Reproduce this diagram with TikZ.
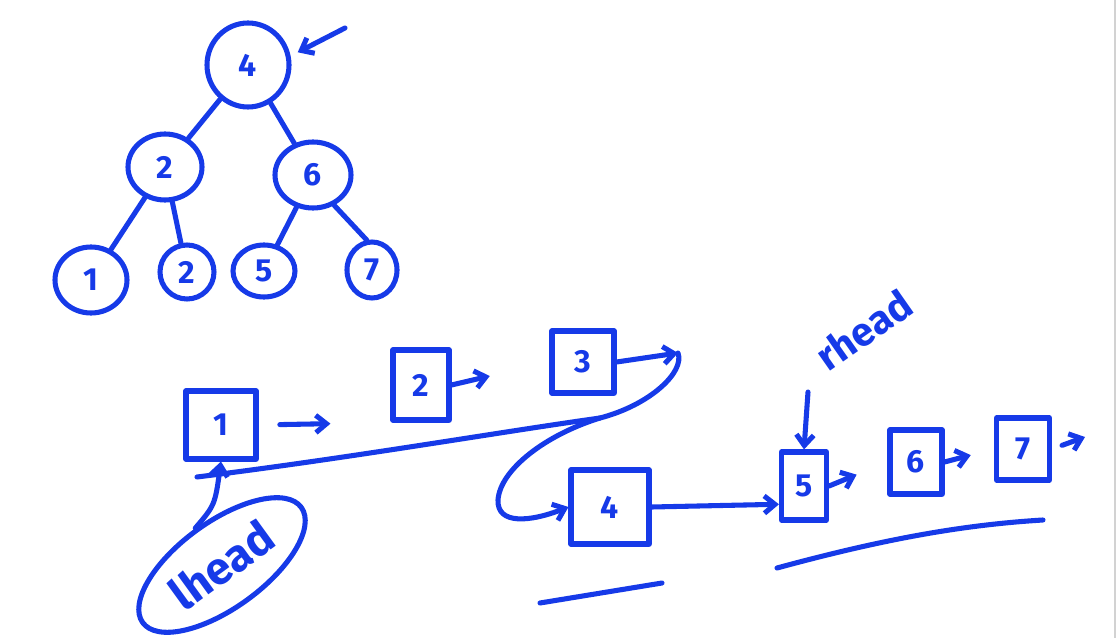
\documentclass[tikz,border=0pt]{standalone}
\usepackage{fontspec}
\setmainfont{Fira Sans}
\usetikzlibrary{shapes.geometric,arrows.meta,calc}
\definecolor{ink}{RGB}{22,58,232}
\begin{document}
\begin{tikzpicture}[x=0.75pt,y=-0.75pt,
  pen/.style={draw=ink, line width=3.8pt, line cap=round, line join=round},
  arr/.style={pen, -{Straight Barb[length=8pt,width=13pt]}},
  digit/.style={text=ink, font=\fontsize{24}{24}\selectfont\bfseries},
  tnode/.style 2 args={pen, digit, ellipse, inner sep=0pt,
    minimum width=#1*0.75pt, minimum height=#2*0.75pt},
  lbox/.style 2 args={pen, digit, rectangle, inner sep=0pt,
    minimum width=#1*0.75pt, minimum height=#2*0.75pt},
  label/.style={text=ink, font=\fontsize{#1}{#1}\selectfont\bfseries}
]
\useasboundingbox (0,0) rectangle (1117,638);
% thin page edge on the right
\draw[gray!35, line width=0.9pt] (1115,0) -- (1115,638);

% ---- binary search tree ----
\node[tnode={82}{84}] (t4)  at (248,65)  {4};
\node[tnode={74}{66}] (t2)  at (165,167) {2};
\node[tnode={76}{66}] (t6)  at (313,175) {6};
\node[tnode={72}{66}] (t1)  at (91,280)  {1};
\node[tnode={54}{54}] (t2b) at (187,272) {2};
\node[tnode={62}{52}] (t5)  at (264,271) {5};
\node[tnode={50}{56}] (t7)  at (372,270) {7};

\draw[pen] (t4) -- (t2);
\draw[pen] (t4) -- (t6);
\draw[pen] (t2) -- (t1);
\draw[pen] (t2) -- (t2b);
\draw[pen] (t6) -- (t5);
\draw[pen] (t6.-55) -- (t7.100);

\coordinate (rootptr) at (345,28);
\draw[arr, shorten >=6pt] (rootptr) -- (t4.12);

% ---- list built from the tree ----
\node[lbox={70}{68}] (b1) at (221,425) {1};
\node[lbox={56}{70}] (b2) at (421,385) {2};
\node[lbox={62}{62}] (b3) at (583,362) {3};
\node[lbox={78}{74}] (b4) at (610,507) {4};
\node[lbox={45}{68}] (b5) at (804,486) {5};
\node[lbox={52}{64}] (b6) at (916,462) {6};
\node[lbox={53}{62}] (b7) at (1023,449) {7};

\draw[arr, shorten <=16pt, shorten >=45pt] (b1.east) -- (b2.south west);
\draw[arr, shorten >=46pt] (b2.east) -- (b3.west);

\coordinate (loop) at (678,353);
\coordinate (join) at (600,418);
\coordinate (back) at (197,477);
\draw[arr] (b3.east) -- (loop);
\draw[pen] (back) .. controls (350,458) and (500,432) .. (join);
\draw[arr] (loop) .. controls (685,372) and (650,405) .. (join)
  .. controls (545,435) and (500,470) .. (498,500)
  .. controls (497,525) and (530,522) .. (b4.west);

\draw[arr] (b4.east) -- ($(b5.west)!0.5!(b5.south west)$);
\draw[arr, shorten >=25pt] (b5.east) -- (b6.west);
\draw[arr, shorten >=18pt] (b6.east) -- (b7.west);
\coordinate (tail) at (1085,437);
\draw[arr, shorten <=8pt] (b7.east) -- (tail);

% ---- head pointers ----
\node[pen, ellipse, inner sep=0pt, minimum width=196*0.75pt,
  minimum height=86*0.75pt, rotate=36, label=34] (lh) at (222,565) {lhead};
\draw[arr] (lh.north) .. controls (215,505) .. (b1.south);

\node[label=30, rotate=35] (rh) at (864,330) {rhead};
\coordinate (rhs) at (808,392);
\draw[arr] (rhs) -- (b5.north);

% ---- underlines ----
\draw[pen] (540,603) -- (662,583);
\draw[pen] (777,568) .. controls (880,540) and (960,525) .. (1043,520);
\end{tikzpicture}
\end{document}
